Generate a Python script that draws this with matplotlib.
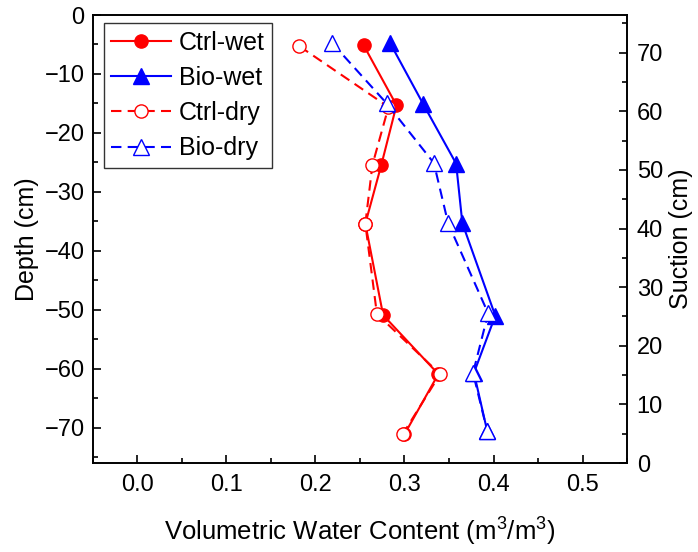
import numpy as np
import matplotlib.pyplot as plt
from matplotlib.ticker import MultipleLocator

plt.rcParams['font.family'] = ['Liberation Sans', 'DejaVu Sans']
plt.rcParams['mathtext.fontset'] = 'custom'
plt.rcParams['mathtext.rm'] = 'Liberation Sans'
plt.rcParams['mathtext.default'] = 'regular'

# Datos
ctrl_wet_x = [0.254, 0.291, 0.274, 0.256, 0.276, 0.338, 0.300]
ctrl_wet_y = [-5.1, -15.3, -25.4, -35.4, -50.9, -60.9, -71.1]
bio_wet_x = [0.284, 0.321, 0.358, 0.365, 0.402, 0.378, 0.393]
bio_wet_y = [-4.8, -15.1, -25.2, -35.3, -51.0, -60.7, -70.6]
ctrl_dry_x = [0.182, 0.282, 0.264, 0.256, 0.269, 0.340, 0.298]
ctrl_dry_y = [-5.3, -15.6, -25.4, -35.4, -50.7, -60.9, -71.1]
bio_dry_x = [0.219, 0.280, 0.333, 0.349, 0.394, 0.377, 0.393]
bio_dry_y = [-4.8, -15.0, -25.1, -35.3, -50.6, -60.7, -70.6]

fig = plt.figure(figsize=(6.98, 5.52), dpi=100)
ax = fig.add_axes([0.1332, 0.161, 0.7651, 0.8118])

lw = 1.5
ax.plot(ctrl_wet_x, ctrl_wet_y, '-o', color='red', lw=lw, ms=9.5, label='Ctrl-wet')
ax.plot(bio_wet_x, bio_wet_y, '-^', color='blue', lw=lw, ms=11, label='Bio-wet')
ax.plot(ctrl_dry_x, ctrl_dry_y, 'o', ls=(0, (5, 3)), color='red', lw=lw, ms=9.5,
        mfc='white', mew=1.0, label='Ctrl-dry')
ax.plot(bio_dry_x, bio_dry_y, '^', ls=(0, (5, 3)), color='blue', lw=lw, ms=11,
        mfc='white', mew=1.0, label='Bio-dry')

ax.set_xlim(-0.05, 0.55)
ax.set_ylim(-76, 0)
ax.xaxis.set_major_locator(MultipleLocator(0.1))
ax.xaxis.set_minor_locator(MultipleLocator(0.05))
ax.yaxis.set_major_locator(MultipleLocator(10))
ax.yaxis.set_minor_locator(MultipleLocator(5))
ax.xaxis.set_major_formatter(plt.FuncFormatter(lambda v, p: f'{v:.1f}'))
ax.tick_params(which='both', direction='in', labelsize=17, width=1.2, top=False, right=False)
ax.tick_params(which='major', length=6)
ax.tick_params(which='minor', length=3.5)
ax.tick_params(axis='x', pad=8)
ax.tick_params(axis='y', pad=6)
for s in ax.spines.values():
    s.set_linewidth(1.2)
ax.set_xlabel('Volumetric Water Content (m$^3$/m$^3$)', fontsize=18.5, labelpad=14)
ax.set_ylabel('Depth (cm)', fontsize=18, labelpad=4)

ax2 = ax.twinx()
ax2.set_ylim(0, 76.4)
ax2.yaxis.set_major_locator(MultipleLocator(10))
ax2.yaxis.set_minor_locator(MultipleLocator(5))
ax2.tick_params(which='both', direction='in', labelsize=17, width=1.2, pad=7)
ax2.tick_params(which='major', length=6)
ax2.tick_params(which='minor', length=3.5)
ax2.set_ylabel('Suction (cm)', fontsize=18, labelpad=4)
for s in ax2.spines.values():
    s.set_linewidth(1.2)

leg = ax.legend(loc='upper left', bbox_to_anchor=(0.02, 0.982), fontsize=18,
                frameon=True, fancybox=False, edgecolor='black', handlelength=2.4,
                borderaxespad=0, labelspacing=0.45, handletextpad=0.3, borderpad=0.3)
leg.get_frame().set_linewidth(1.0)

fig.savefig('out.png', dpi=100)
